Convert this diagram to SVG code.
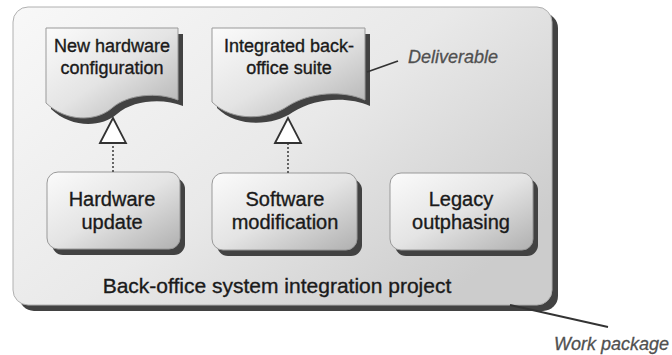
<svg xmlns="http://www.w3.org/2000/svg" width="672" height="355" viewBox="0 0 672 355">
  <defs>
    <linearGradient id="gradPackage" x1="0" y1="0" x2="1" y2="0.7">
      <stop offset="0" stop-color="#f8f8f8"/>
      <stop offset="0.55" stop-color="#e9e9e9"/>
      <stop offset="1" stop-color="#cccccc"/>
    </linearGradient>
    <linearGradient id="gradNode" x1="0" y1="0" x2="1" y2="1">
      <stop offset="0" stop-color="#fbfbfb"/>
      <stop offset="0.5" stop-color="#e4e4e4"/>
      <stop offset="1" stop-color="#b0b0b0"/>
    </linearGradient>
    <filter id="soft" x="-10%" y="-10%" width="120%" height="130%">
      <feGaussianBlur stdDeviation="0.7"/>
    </filter>
    <marker id="hollowTriangle" markerUnits="userSpaceOnUse" viewBox="-2 -15 30 30" refX="25" refY="0" markerWidth="30" markerHeight="30" orient="auto">
      <path d="M0,-13 L25,0 L0,13 Z" fill="#ffffff" stroke="#333333" stroke-width="1.8" stroke-linejoin="miter"/>
    </marker>
    <style>
      .shadow { fill: #424242; filter: url(#soft); }
      .node { fill: url(#gradNode); stroke: #999999; stroke-width: 1; }
      .package { fill: url(#gradPackage); stroke: #b0b0b0; stroke-width: 1; }
      .label { font-family: "Liberation Sans", Arial, sans-serif; fill: #1a1a1a; stroke: #1a1a1a; stroke-width: 0.35; text-anchor: middle; }
      .deliv { font-size: 18px; }
      .task { font-size: 20px; }
      .note { font-family: "Liberation Sans", Arial, sans-serif; font-style: italic; font-size: 18px; fill: #505050; stroke: #505050; stroke-width: 0.3; }
      .realize { stroke: #444444; stroke-width: 1.6; stroke-dasharray: 2 2; fill: none; }
      .leader { stroke: #333333; stroke-width: 1.8; fill: none; }
    </style>
  </defs>

  <!-- work package container -->
  <g id="work-package">
    <rect class="shadow" x="19" y="13" width="539" height="298" rx="15"/>
    <rect class="package" x="13" y="7" width="539" height="298" rx="15"/>
    <text class="label" x="277" y="293" font-size="21">Back-office system integration project</text>
  </g>

  <!-- deliverables -->
  <g id="deliverable-hardware">
    <path class="shadow" d="M51,34 H183 V106 C163,98 133,100 117,114 C101,128 71,128 51,109 Z"/>
    <path class="node" d="M46,28 H178 V100 C158,92 128,94 112,108 C96,122 66,122 46,103 Z"/>
    <text class="label deliv" x="112" y="52">New hardware</text>
    <text class="label deliv" x="112" y="74">configuration</text>
  </g>

  <g id="deliverable-suite">
    <path class="shadow" d="M217,34 H370 V106 C348,96 315,98 293,112 C273,126 237,128 217,108 Z"/>
    <path class="node" d="M212,28 H365 V100 C343,90 310,92 288,106 C268,120 232,122 212,102 Z"/>
    <text class="label deliv" x="289" y="52">Integrated back-</text>
    <text class="label deliv" x="289" y="74">office suite</text>
  </g>

  <!-- work packages (tasks) -->
  <g id="task-hardware">
    <rect class="shadow" x="52" y="178" width="133" height="77" rx="11"/>
    <rect class="node" x="47" y="172" width="133" height="77" rx="11"/>
    <text class="label task" x="112" y="206">Hardware</text>
    <text class="label task" x="112" y="229">update</text>
  </g>

  <g id="task-software">
    <rect class="shadow" x="217" y="179" width="145" height="77" rx="11"/>
    <rect class="node" x="212" y="173" width="145" height="77" rx="11"/>
    <text class="label task" x="285" y="206">Software</text>
    <text class="label task" x="285" y="229">modification</text>
  </g>

  <g id="task-legacy">
    <rect class="shadow" x="395" y="179" width="143" height="77" rx="11"/>
    <rect class="node" x="390" y="173" width="143" height="77" rx="11"/>
    <text class="label task" x="461" y="206">Legacy</text>
    <text class="label task" x="461" y="229">outphasing</text>
  </g>

  <!-- realization connectors -->
  <g id="connectors">
    <line class="realize" x1="113" y1="172" x2="113" y2="118" marker-end="url(#hollowTriangle)"/>
    <line class="realize" x1="288" y1="173" x2="288" y2="118" marker-end="url(#hollowTriangle)"/>
  </g>

  <!-- annotations -->
  <g id="annotations">
    <line class="leader" x1="367" y1="72" x2="398" y2="61"/>
    <text class="note" x="408" y="63">Deliverable</text>
    <line class="leader" x1="510" y1="305" x2="608" y2="327"/>
    <text class="note" x="669" y="350" text-anchor="end">Work package</text>
  </g>
</svg>
